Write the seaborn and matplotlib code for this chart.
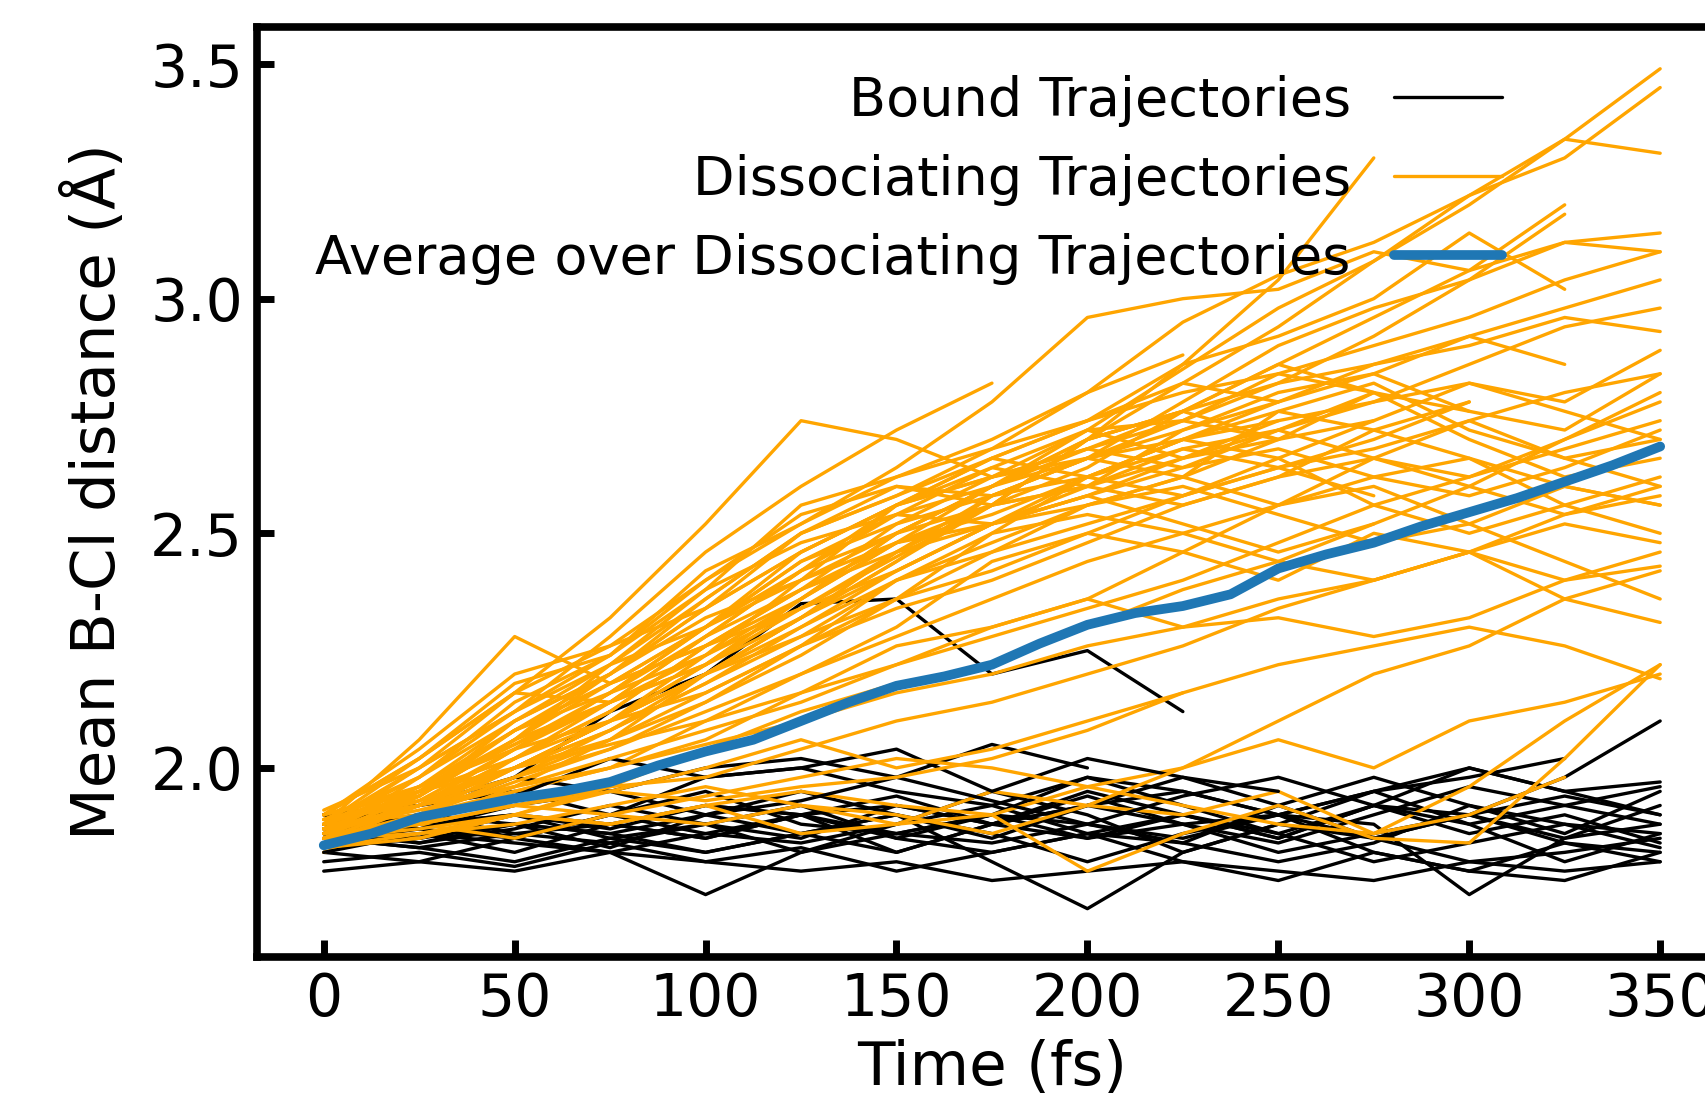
import matplotlib
matplotlib.use('Agg')
import pandas as pd
import matplotlib.pyplot as plt
from matplotlib.lines import Line2D
import seaborn as sns

# sample times (fs) used for the traced trajectories
time_fs = [0, 25, 50, 75, 100, 125, 150, 175, 200, 225, 250, 275, 300, 325, 350]

# bound trajectories (mean B-Cl distance, Angstrom); shorter lists stop early
bound_01 = [1.86, 1.90, 1.98, 2.12, 2.20, 2.35, 2.36, 2.20, 2.25, 2.12]
bound_02 = [1.88, 1.85, 1.90, 1.88, 1.85, 1.90, 1.92, 1.88, 1.95, 1.90, 1.85, 1.92, 1.90, 1.98, 2.10]
bound_03 = [1.85, 1.83, 1.80, 1.85, 1.82, 1.86, 1.90, 1.80, 1.70, 1.82, 1.88, 1.85, 1.90, 1.85, 1.88]
bound_04 = [1.82, 1.80, 1.85, 1.82, 1.73, 1.82, 1.86, 1.90, 1.85, 1.88, 1.90, 1.85, 1.80, 1.82, 1.85]
bound_05 = [1.87, 1.90, 1.86, 1.88, 1.92, 1.90, 1.85, 1.90, 1.88, 1.85, 1.90, 1.88, 1.73, 1.85, 1.92]
bound_06 = [1.78, 1.80, 1.78, 1.82, 1.80, 1.78, 1.80, 1.76, 1.78, 1.80, 1.78, 1.76, 1.80, 1.78, 1.80]
bound_07 = [1.90, 1.92, 1.95, 1.90, 1.98, 2.00, 1.95, 1.92, 1.98, 1.95, 1.90, 1.95, 2.00, 1.95, 1.97]
bound_08 = [1.84, 1.86, 1.82, 1.88, 1.85, 1.90, 1.82, 1.88, 1.85, 1.90, 1.85, 1.92, 1.86, 1.90, 1.84]
bound_09 = [1.86, 1.88, 1.90, 1.85, 1.88, 1.82, 1.88, 1.95, 1.90, 1.82, 1.88, 1.95, 1.88, 1.80, 1.86]
bound_10 = [1.88, 1.84, 1.87, 1.92, 1.88, 1.85, 1.92, 1.88, 1.94, 1.88, 1.84, 1.90, 1.96, 1.92, 1.88]
bound_11 = [1.85, 1.90, 1.88, 1.83, 1.90, 1.95, 1.90, 1.85, 1.92, 1.98, 1.92, 1.85, 1.90, 1.94, 1.90]
bound_12 = [1.83, 1.85, 1.88, 1.86, 1.82, 1.86, 1.90, 1.86, 1.80, 1.86, 1.90, 1.82, 1.78, 1.84, 1.82]
bound_13 = [1.87, 1.90, 1.85, 1.90, 1.95, 1.88, 1.86, 1.90, 1.98, 1.92, 1.86, 1.92, 2.00, 1.95, 1.90]
bound_14 = [1.86, 1.88, 1.90, 1.87, 1.92, 1.90, 1.94, 1.88, 1.92, 1.95, 1.90, 1.95, 1.98, 2.02]
bound_15 = [1.85, 1.83, 1.86, 1.84, 1.88, 1.92, 1.85, 1.82, 1.86, 1.90, 1.86, 1.80, 1.84, 1.88, 1.83]
bound_16 = [1.88, 1.92, 1.98, 1.95, 2.00, 2.02, 1.98, 2.05, 2.00]
bound_17 = [1.84, 1.87, 1.85, 1.90, 1.86, 1.84, 1.88, 1.92, 1.86, 1.84, 1.92, 1.98, 1.92, 1.86, 1.95]
bound_18 = [1.86, 1.84, 1.88, 1.86, 1.90, 1.86, 1.82, 1.88, 1.92, 1.88, 1.82, 1.86, 1.90, 1.84, 1.80]
bound_19 = [1.82, 1.86, 1.84, 1.82, 1.86, 1.90, 1.86, 1.84, 1.88, 1.84, 1.80, 1.84, 1.92, 1.88, 1.86]
bound_20 = [1.90, 1.87, 1.92, 1.95, 1.90, 1.93, 1.98, 1.93, 1.88, 1.94, 1.98, 1.92, 1.88, 1.92, 1.96]
bound_21 = [1.86, 1.90, 1.94, 2.02, 1.98, 2.00, 2.04, 1.95, 2.02, 1.98, 1.95]
bound_22 = [1.80, 1.82, 1.79, 1.84, 1.80, 1.83, 1.78, 1.82, 1.86, 1.80, 1.76, 1.82, 1.78, 1.76, 1.82]

# dissociating trajectories
dissoc_01 = [1.88, 1.96, 2.05, 2.14, 2.24, 2.36, 2.48, 2.60, 2.72, 2.85, 2.98, 3.08, 3.20, 3.34, 3.49]
dissoc_02 = [1.86, 1.92, 2.00, 2.10, 2.20, 2.32, 2.44, 2.56, 2.70, 2.82, 2.94, 3.08, 3.22, 3.30, 3.45]
dissoc_03 = [1.90, 2.02, 2.16, 2.26, 2.40, 2.52, 2.62, 2.70, 2.80, 2.95, 3.05, 3.12, 3.22, 3.34, 3.31]
dissoc_04 = [1.87, 1.93, 2.00, 2.10, 2.22, 2.34, 2.45, 2.56, 2.70, 2.86, 3.04, 3.30]
dissoc_05 = [1.88, 2.00, 2.12, 2.28, 2.46, 2.60, 2.72, 2.82]
dissoc_06 = [1.90, 2.02, 2.16, 2.32, 2.52, 2.74, 2.70, 2.62, 2.66, 2.78, 2.90, 2.98, 3.04, 3.12, 3.14]
dissoc_07 = [1.88, 2.06, 2.28, 2.18, 2.30, 2.44, 2.54, 2.60, 2.70, 2.76, 2.82, 2.86, 2.90, 2.96, 2.93]
dissoc_08 = [1.85, 1.98, 2.14, 2.24, 2.42, 2.52, 2.64, 2.78, 2.96, 3.00, 3.02, 3.10, 3.06, 3.12, 3.10]
dissoc_09 = [1.84, 1.95, 2.08, 2.16, 2.30, 2.46, 2.56, 2.62, 2.72, 2.74, 2.82, 2.92, 3.04, 3.18]
dissoc_10 = [1.86, 1.93, 2.04, 2.16, 2.30, 2.42, 2.50, 2.60, 2.66, 2.70, 2.74, 2.78, 2.82, 2.78, 2.89]
dissoc_11 = [1.87, 1.90, 2.00, 2.10, 2.22, 2.36, 2.50, 2.56, 2.60, 2.72, 2.80, 2.84, 2.76, 2.72, 2.84]
dissoc_12 = [1.82, 1.88, 1.96, 2.06, 2.20, 2.30, 2.42, 2.52, 2.62, 2.68, 2.72, 2.66, 2.62, 2.70, 2.78]
dissoc_13 = [1.90, 1.95, 2.02, 2.10, 2.16, 2.26, 2.40, 2.46, 2.56, 2.62, 2.76, 2.82, 2.72, 2.66, 2.70]
dissoc_14 = [1.85, 1.90, 1.98, 2.06, 2.16, 2.26, 2.36, 2.50, 2.62, 2.70, 2.66, 2.56, 2.50, 2.56, 2.62]
dissoc_15 = [1.88, 1.92, 2.02, 2.12, 2.26, 2.38, 2.46, 2.52, 2.56, 2.62, 2.56, 2.62, 2.66, 2.56, 2.50]
dissoc_16 = [1.83, 1.88, 1.95, 2.00, 2.10, 2.20, 2.30, 2.44, 2.50, 2.46, 2.40, 2.50, 2.46, 2.40, 2.43]
dissoc_17 = [1.86, 1.90, 1.95, 2.00, 2.06, 2.16, 2.26, 2.30, 2.36, 2.30, 2.36, 2.40, 2.46, 2.36, 2.31]
dissoc_18 = [1.87, 1.85, 1.90, 1.88, 1.92, 1.95, 1.92, 1.90, 1.96, 2.00, 2.06, 2.00, 2.10, 2.14, 2.20]
dissoc_19 = [1.85, 1.88, 1.85, 1.90, 1.88, 1.92, 1.88, 1.95, 1.92, 1.90, 1.95, 1.86, 1.96, 2.10, 2.22]
dissoc_20 = [1.90, 1.95, 2.00, 2.05, 2.10, 2.16, 2.22, 2.30, 2.36, 2.46, 2.56, 2.66, 2.74, 2.80, 2.84]
dissoc_21 = [1.84, 1.90, 2.00, 2.10, 2.20, 2.32, 2.46, 2.56, 2.60, 2.66, 2.70]
dissoc_22 = [1.89, 1.94, 2.06, 2.20, 2.34, 2.50, 2.58, 2.68, 2.74, 2.86, 2.92, 3.00, 3.14, 3.02]
dissoc_23 = [1.86, 1.92, 1.96, 2.00, 2.05, 2.10, 2.16, 2.20, 2.26, 2.30, 2.32, 2.28, 2.32, 2.40, 2.46]
dissoc_24 = [1.83, 1.85, 1.90, 1.95, 2.00, 2.06, 2.00, 2.04, 2.10, 2.16, 2.22, 2.26, 2.30, 2.26, 2.19]
dissoc_25 = [1.88, 1.90, 1.92, 1.95, 1.93, 1.96, 1.98, 2.02, 2.08, 2.16]
dissoc_26 = [1.85, 1.87, 1.90, 1.88, 1.92, 1.86, 1.88, 1.90, 1.78, 1.86, 1.92, 1.85, 1.84, 2.02, 2.22]
dissoc_27 = [1.91, 2.00, 2.12, 2.22, 2.36, 2.50, 2.60, 2.56, 2.64, 2.76, 2.86, 2.96, 3.06, 3.20]
dissoc_28 = [1.87, 1.95, 2.08, 2.20, 2.32, 2.40, 2.56, 2.64, 2.60, 2.56, 2.62, 2.72, 2.66, 2.60, 2.56]
dissoc_29 = [1.84, 1.90, 2.02, 2.14, 2.28, 2.38, 2.48, 2.56, 2.70, 2.76, 2.86, 2.80, 2.70, 2.62, 2.66]
dissoc_30 = [1.86, 1.94, 2.06, 2.18, 2.26, 2.36, 2.50, 2.60, 2.70, 2.76, 2.70, 2.74]
dissoc_31 = [1.89, 1.92, 1.98, 2.04, 2.12, 2.20, 2.28, 2.36, 2.44, 2.50, 2.56, 2.60, 2.52, 2.44, 2.36]
dissoc_32 = [1.85, 1.88, 1.92, 1.96, 1.98, 2.04, 2.10, 2.14, 2.20, 2.26, 2.34, 2.40, 2.46, 2.54, 2.60]
dissoc_33 = [1.88, 1.98, 2.10, 2.20, 2.34, 2.46, 2.56, 2.66, 2.74, 2.80, 2.84, 2.80]
dissoc_34 = [1.83, 1.86, 1.90, 1.96, 2.04, 2.12, 2.18, 2.22, 2.30, 2.38, 2.44, 2.52, 2.60, 2.70, 2.80]
dissoc_35 = [1.87, 1.92, 2.00, 2.08, 2.18, 2.28, 2.40, 2.50, 2.54, 2.50, 2.44, 2.40, 2.46, 2.52, 2.48]
dissoc_36 = [1.90, 1.96, 2.04, 2.10, 2.20, 2.32, 2.44, 2.58, 2.66, 2.72, 2.78, 2.86, 2.92, 2.98, 3.04]
dissoc_37 = [1.86, 1.88, 1.92, 1.90, 1.94, 1.98, 2.02, 2.00, 1.96, 1.92, 1.88, 1.86, 1.90, 1.98]
dissoc_38 = [1.84, 1.92, 2.04, 2.16, 2.24, 2.34, 2.42, 2.52, 2.58, 2.64, 2.68, 2.62, 2.58, 2.64, 2.72]
dissoc_39 = [1.88, 1.94, 2.10, 2.22, 2.38, 2.56, 2.62, 2.68, 2.80, 2.88]
dissoc_40 = [1.85, 1.86, 1.88, 1.92, 1.96, 1.92, 1.90, 1.86, 1.92, 2.00, 2.10, 2.20, 2.26, 2.36, 2.42]
dissoc_41 = [1.86, 1.96, 2.10, 2.20, 2.36, 2.50, 2.58, 2.66, 2.62, 2.70, 2.78]
dissoc_42 = [1.88, 1.94, 2.06, 2.22, 2.30, 2.44, 2.52, 2.58, 2.66, 2.62, 2.70, 2.80, 2.76]
dissoc_43 = [1.85, 1.92, 2.02, 2.12, 2.26, 2.34, 2.46, 2.58, 2.62, 2.58, 2.66, 2.74, 2.82, 2.76, 2.70]
dissoc_44 = [1.87, 2.00, 2.16, 2.14, 2.28, 2.42, 2.54, 2.52, 2.60, 2.68, 2.64, 2.58]
dissoc_45 = [1.84, 1.90, 1.98, 2.08, 2.18, 2.30, 2.40, 2.48, 2.56, 2.60, 2.54, 2.48, 2.52, 2.60, 2.56]
dissoc_46 = [1.89, 1.98, 2.12, 2.24, 2.38, 2.48, 2.54, 2.64, 2.72, 2.66, 2.74]
dissoc_47 = [1.86, 1.92, 2.04, 2.14, 2.22, 2.36, 2.48, 2.52, 2.58, 2.66, 2.72, 2.78, 2.86, 2.94, 2.98]
dissoc_48 = [1.83, 1.90, 2.00, 2.06, 2.14, 2.24, 2.36, 2.42, 2.50, 2.58, 2.64, 2.70, 2.78]
dissoc_49 = [1.90, 2.04, 2.20, 2.26, 2.34, 2.46, 2.56, 2.62, 2.68, 2.74, 2.70]
dissoc_50 = [1.87, 1.95, 2.05, 2.16, 2.28, 2.42, 2.56, 2.66, 2.74, 2.82, 2.78, 2.84, 2.92, 2.86]
dissoc_51 = [1.85, 1.90, 1.97, 2.04, 2.14, 2.26, 2.34, 2.40, 2.48, 2.56, 2.62, 2.66, 2.60, 2.54, 2.58]
dissoc_52 = [1.88, 1.96, 2.08, 2.18, 2.30, 2.40, 2.50, 2.60, 2.68, 2.64, 2.72, 2.80]
dissoc_53 = [1.86, 1.92, 2.00, 2.10, 2.24, 2.40, 2.48, 2.54, 2.62, 2.70, 2.76, 2.72, 2.78]
dissoc_54 = [1.84, 1.94, 2.08, 2.18, 2.26, 2.38, 2.52, 2.62, 2.68, 2.76]
dissoc_55 = [1.89, 1.93, 2.00, 2.08, 2.20, 2.28, 2.36, 2.46, 2.52, 2.58, 2.64, 2.68, 2.74, 2.66, 2.60]
dissoc_56 = [1.87, 1.91, 1.96, 2.02, 2.08, 2.14, 2.22, 2.28, 2.34, 2.40, 2.48, 2.56, 2.62, 2.68, 2.74]
dissoc_57 = [1.85, 1.95, 2.06, 2.14, 2.22, 2.32, 2.42, 2.52, 2.58, 2.52, 2.46, 2.52]
dissoc_58 = [1.88, 2.02, 2.18, 2.24, 2.40, 2.54, 2.60, 2.58, 2.66, 2.74, 2.84, 2.90, 2.96, 3.04, 3.10]

# average over the dissociating trajectories
avg_time_fs = [0, 12.5, 25, 37.5, 50, 62.5, 75, 87.5, 100, 112.5, 125, 137.5, 150, 162.5, 175,
               187.5, 200, 212.5, 225, 237.5, 250, 262.5, 275, 287.5, 300, 312.5, 325, 337.5, 350]
avg_dissoc = [1.835, 1.86, 1.895, 1.915, 1.935, 1.95, 1.97, 2.005, 2.035, 2.06, 2.10, 2.14, 2.175,
              2.195, 2.22, 2.265, 2.305, 2.33, 2.345, 2.37, 2.425, 2.455, 2.48, 2.515, 2.545,
              2.575, 2.61, 2.645, 2.685]

legend_labels = ['Bound Trajectories', 'Dissociating Trajectories',
                 'Average over Dissociating Trajectories']

bound_runs = [bound_01, bound_02, bound_03, bound_04, bound_05, bound_06, bound_07, bound_08,
              bound_09, bound_10, bound_11, bound_12, bound_13, bound_14, bound_15, bound_16,
              bound_17, bound_18, bound_19, bound_20, bound_21, bound_22]
dissoc_runs = [dissoc_01, dissoc_02, dissoc_03, dissoc_04, dissoc_05, dissoc_06, dissoc_07,
               dissoc_08, dissoc_09, dissoc_10, dissoc_11, dissoc_12, dissoc_13, dissoc_14,
               dissoc_15, dissoc_16, dissoc_17, dissoc_18, dissoc_19, dissoc_20, dissoc_21,
               dissoc_22, dissoc_23, dissoc_24, dissoc_25, dissoc_26, dissoc_27, dissoc_28,
               dissoc_29, dissoc_30, dissoc_31, dissoc_32, dissoc_33, dissoc_34, dissoc_35,
               dissoc_36, dissoc_37, dissoc_38, dissoc_39, dissoc_40, dissoc_41, dissoc_42,
               dissoc_43, dissoc_44, dissoc_45, dissoc_46, dissoc_47, dissoc_48, dissoc_49,
               dissoc_50, dissoc_51, dissoc_52, dissoc_53, dissoc_54, dissoc_55, dissoc_56,
               dissoc_57, dissoc_58]

# long-form table, bound and dissociating runs interleaved so draw order is mixed
rows = []
order = []
colors = {}
for i in range(max(len(bound_runs), len(dissoc_runs))):
    for kind, runs, col in (('bound', bound_runs, 'black'), ('dissoc', dissoc_runs, 'orange')):
        if i < len(runs):
            name = f'{kind}_{i}'
            order.append(name)
            colors[name] = col
            for t, d in zip(time_fs, runs[i]):
                rows.append((name, t, d))
df = pd.DataFrame(rows, columns=['traj', 'time', 'dist'])

sns.set_style('ticks', {'axes.edgecolor': 'black', 'xtick.color': 'black', 'ytick.color': 'black',
                        'text.color': 'black', 'axes.labelcolor': 'black',
                        'xtick.direction': 'in', 'ytick.direction': 'in'})
plt.rcParams['font.family'] = ['DejaVu Sans']

fig = plt.figure(figsize=(17.06, 11.07), dpi=100)
ax = fig.add_axes([0.1506, 0.1355, 0.8617, 0.8401])

sns.lineplot(data=df, x='time', y='dist', hue='traj', hue_order=order, palette=colors,
             estimator=None, legend=False, linewidth=2.4, ax=ax)
sns.lineplot(x=avg_time_fs, y=avg_dissoc, color='#1f77b4', linewidth=7, ax=ax)

handles = [Line2D([], [], color='black', lw=2.4),
           Line2D([], [], color='orange', lw=2.4),
           Line2D([], [], color='#1f77b4', lw=7)]
ax.legend(handles, legend_labels, loc='upper right', bbox_to_anchor=(0.862, 0.972),
          frameon=False, markerfirst=False, fontsize=39, borderaxespad=0)

ax.set_xlim(-17.5, 367.5)
ax.set_ylim(1.597, 3.579)
ax.set_xticks([0, 50, 100, 150, 200, 250, 300, 350])
ax.set_yticks([2.0, 2.5, 3.0, 3.5])
ax.set_yticklabels(['2.0', '2.5', '3.0', '3.5'])
ax.tick_params(direction='in', length=12, width=5, labelsize=42, pad=10, top=False, right=False)
ax.set_xlabel('Time (fs)', fontsize=44, labelpad=8)
ax.set_ylabel('Mean B-Cl distance (Å)', fontsize=44, labelpad=16)
for s in ax.spines.values():
    s.set_linewidth(5.5)

fig.savefig('out.png', dpi=100)
